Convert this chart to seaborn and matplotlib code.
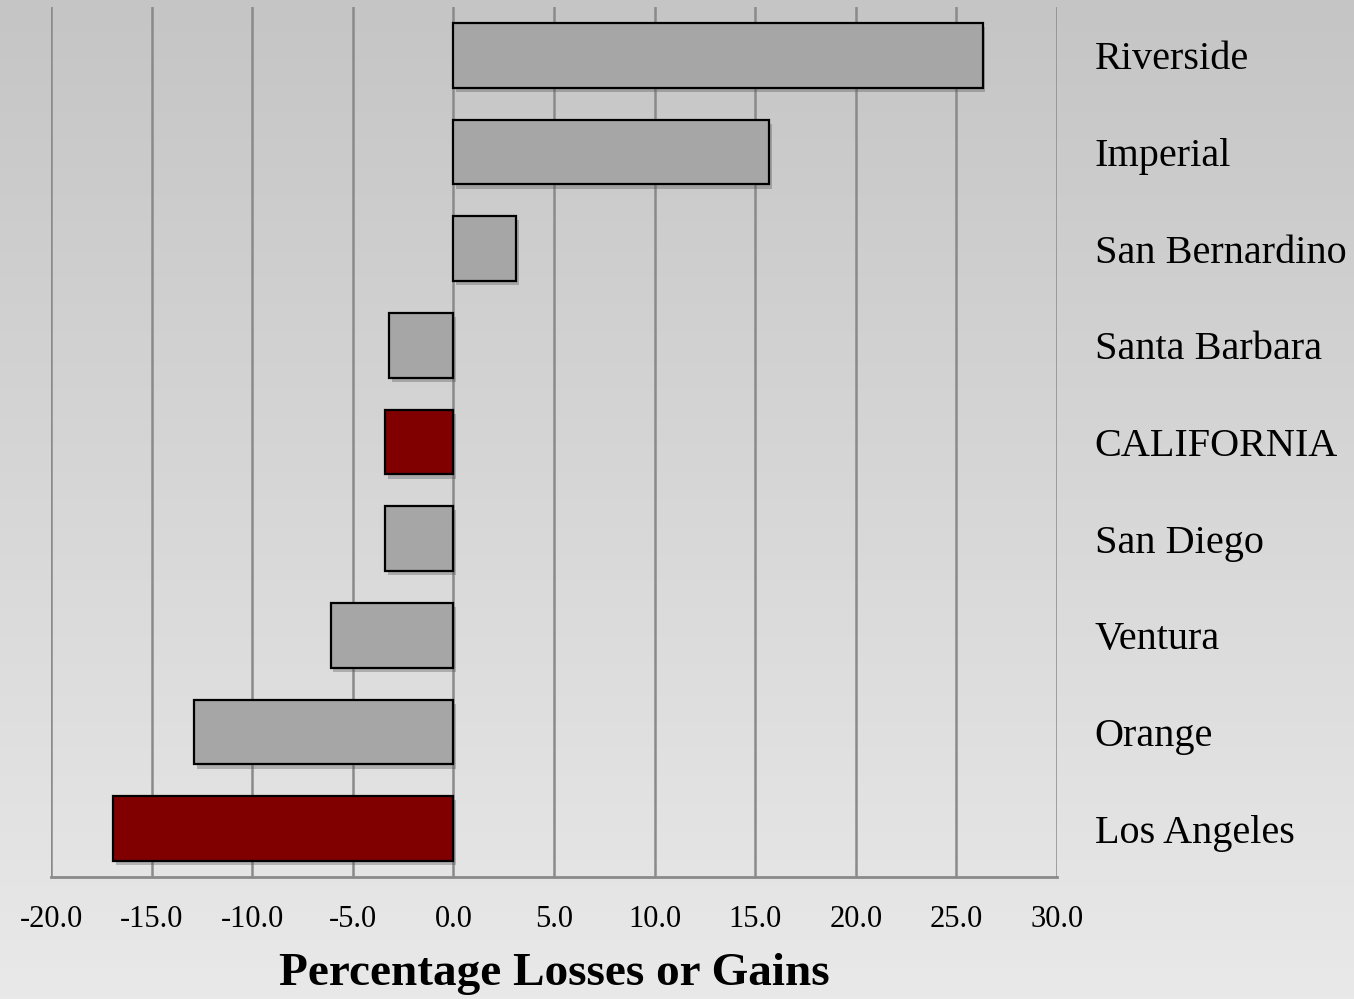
# ==========================================================
# Program: Percentage losses or gains by county (horizontal bars)
# ==========================================================

# 1- Import Libraries

import numpy as np
import pandas as pd
import matplotlib
matplotlib.use("Agg")
import matplotlib.pyplot as plt
import matplotlib.patheffects as pe
import seaborn as sns


# 2- Data

regions = ["Riverside", "Imperial", "San Bernardino", "Santa Barbara",
           "CALIFORNIA", "San Diego", "Ventura", "Orange", "Los Angeles"]
change = [26.3, 15.7, 3.1, -3.2, -3.4, -3.4, -6.1, -12.9, -16.9]
highlight = ["no", "no", "no", "no", "yes", "no", "no", "no", "yes"]

x_ticks = [-20, -15, -10, -5, 0, 5, 10, 15, 20, 25, 30]

df = pd.DataFrame({"region": regions, "change": change, "highlight": highlight})


# 3- Figure setup

sns.set_style("white")
plt.rcParams["font.family"] = ["Liberation Serif", "DejaVu Serif"]
plt.rcParams["text.color"] = "black"
plt.rcParams["xtick.labelcolor"] = "black"
plt.rcParams["ytick.labelcolor"] = "black"
plt.rcParams["axes.labelcolor"] = "black"

fig = plt.figure(figsize=(13.54, 9.99), dpi=100)

# gradient background (darker at top, lighter at bottom)
bg = fig.add_axes([0, 0, 1, 1], zorder=0)
grad = np.linspace(0, 1, 256).reshape(-1, 1)
bg.imshow(grad, aspect="auto", cmap=matplotlib.colors.LinearSegmentedColormap.from_list(
    "bg", ["#c5c5c5", "#e9e9e9"]), extent=[0, 1, 0, 1], origin="upper")
bg.axis("off")

ax = fig.add_axes([0.0377, 0.1221, 0.7430, 0.8709], zorder=1)
ax.patch.set_alpha(0)


# 4- Draw bars

sns.barplot(data=df, x="change", y="region", hue="highlight",
            palette={"no": "#a6a6a6", "yes": "#800000"}, saturation=1,
            dodge=False, width=0.67, edgecolor="black", linewidth=1.6,
            legend=False, ax=ax, zorder=3)

for bar in ax.patches:
    bar.set_path_effects([pe.SimplePatchShadow(offset=(2, -3), alpha=0.35, shadow_rgbFace="#555555"),
                          pe.Normal()])


# 5- Axes styling

ax.set_xlim(-20, 30)
ax.set_ylim(8.5, -0.5)
ax.set_xticks(x_ticks)
ax.set_xticklabels(["{:.1f}".format(t) for t in x_ticks], fontsize=22)

ax.grid(axis="x", color="#8a8a8a", linewidth=1.8, zorder=0)
ax.set_axisbelow(True)

for side in ["top", "left", "right"]:
    ax.spines[side].set_visible(False)
ax.spines["bottom"].set_color("#8a8a8a")
ax.spines["bottom"].set_linewidth(2)

ax.tick_params(axis="x", direction="out", length=8, width=1.8, color="#8a8a8a", pad=12)
ax.yaxis.tick_right()
ax.tick_params(axis="y", length=0, pad=27, labelsize=29)
ax.set_ylabel("")

ax.set_xlabel("Percentage Losses or Gains", fontsize=34, fontweight="bold", labelpad=14)

plt.savefig("out.png", dpi=100)
